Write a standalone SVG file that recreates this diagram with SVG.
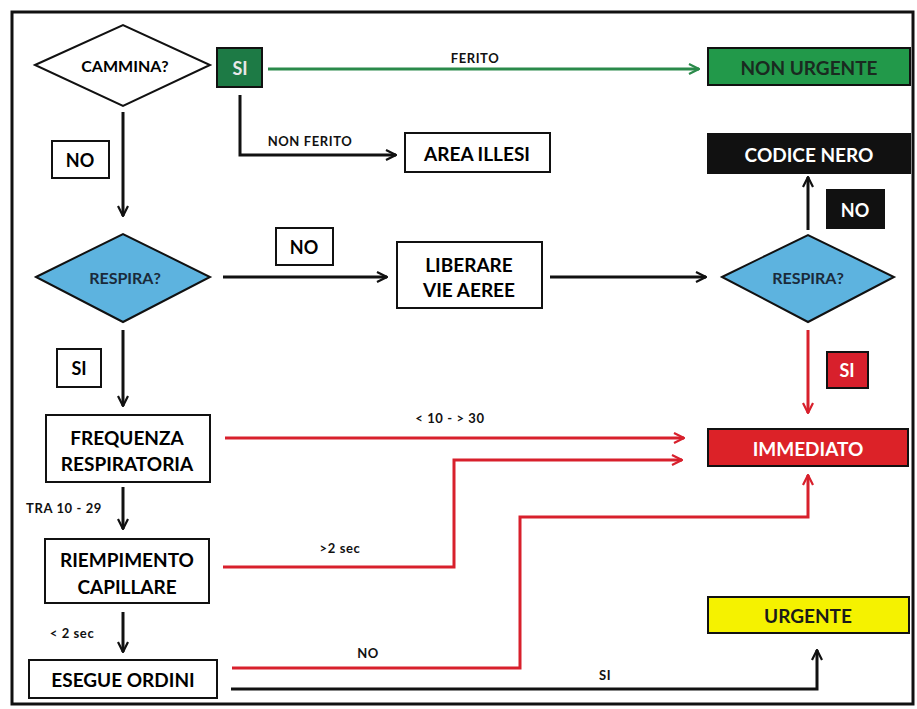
<svg xmlns="http://www.w3.org/2000/svg" width="917" height="709" viewBox="0 0 917 709">
<style>
.t{font-family:Lato,"Liberation Sans",sans-serif;font-weight:bold;font-size:19px;text-anchor:middle;dominant-baseline:central}
.d{font-size:16px}
.n{font-size:18px}
.s{font-family:Lato,"Liberation Sans",sans-serif;font-weight:bold;font-size:13px;letter-spacing:0.6px;text-anchor:middle;dominant-baseline:central;fill:#111}
.box{stroke:#111;stroke-width:2}
.c{fill:none;stroke-width:3}
.k{stroke:#111}
.r{stroke:#d8202c}
.g{stroke:#2a8a4a}
</style>
<defs>
<marker id="ak" viewBox="0 0 12 12" refX="11" refY="6" markerWidth="12" markerHeight="12" markerUnits="userSpaceOnUse" orient="auto"><path d="M1,1 L11,6 L1,11" fill="none" stroke="#111" stroke-width="2.2"/></marker>
<marker id="ar" viewBox="0 0 12 12" refX="11" refY="6" markerWidth="12" markerHeight="12" markerUnits="userSpaceOnUse" orient="auto"><path d="M1,1 L11,6 L1,11" fill="none" stroke="#d8202c" stroke-width="2.2"/></marker>
<marker id="ag" viewBox="0 0 12 12" refX="11" refY="6" markerWidth="12" markerHeight="12" markerUnits="userSpaceOnUse" orient="auto"><path d="M1,1 L11,6 L1,11" fill="none" stroke="#2a8a4a" stroke-width="2.2"/></marker>
</defs>
<rect x="0" y="0" width="917" height="709" fill="#fff"/>
<rect x="12" y="12" width="901" height="692" fill="none" stroke="#111" stroke-width="3"/>

<g id="connectors">
<path class="c g" d="M268,69 H699" marker-end="url(#ag)"/>
<path class="c k" d="M240,95 V155 H396" marker-end="url(#ak)"/>
<path class="c k" d="M123,112 V216" marker-end="url(#ak)"/>
<path class="c k" d="M223,277 H387" marker-end="url(#ak)"/>
<path class="c k" d="M550,277 H706" marker-end="url(#ak)"/>
<path class="c k" d="M808,230 V177" marker-end="url(#ak)"/>
<path class="c r" d="M808,330 V413" marker-end="url(#ar)"/>
<path class="c k" d="M123,330 V406" marker-end="url(#ak)"/>
<path class="c r" d="M225,438 H684" marker-end="url(#ar)"/>
<path class="c r" d="M223,567 H454 V460 H682" marker-end="url(#ar)"/>
<path class="c k" d="M123,487 V529" marker-end="url(#ak)"/>
<path class="c k" d="M123,612 V652" marker-end="url(#ak)"/>
<path class="c r" d="M232,668 H520 V517 H808 V475" marker-end="url(#ar)"/>
<path class="c k" d="M231,689 H817 V650" marker-end="url(#ak)"/>
<text class="s" x="475" y="58">FERITO</text>
<text class="s" x="310" y="141">NON FERITO</text>
<text class="s" x="450" y="418">&lt; 10 - &gt; 30</text>
<text class="s" x="64" y="508">TRA 10 - 29</text>
<text class="s" x="340" y="548">&gt;2 sec</text>
<text class="s" x="72" y="633">&lt; 2 sec</text>
<text class="s" x="368" y="653">NO</text>
<text class="s" x="605" y="675">SI</text>
</g>

<g id="cammina">
<polygon points="35,65 123,25 210,65 123,106" fill="#fff" class="box"/>
<text class="t d" x="125" y="65">CAMMINA?</text>
</g>
<g id="si-green">
<rect x="217" y="48" width="45" height="39" fill="#1d7a45" class="box"/>
<text class="t n" x="240" y="68" fill="#e8e8e8">SI</text>
</g>
<g id="non-urgente">
<rect x="708" y="48" width="202" height="37" fill="#22994a" class="box"/>
<text class="t" x="809" y="67" fill="#1a2a20">NON URGENTE</text>
</g>
<g id="area-illesi">
<rect x="405" y="133" width="145" height="39" fill="#fff" class="box"/>
<text class="t" x="477" y="153">AREA ILLESI</text>
</g>
<g id="codice-nero">
<rect x="708" y="134" width="202" height="39" fill="#111" class="box"/>
<text class="t" x="809" y="154" fill="#fff">CODICE NERO</text>
</g>
<g id="no-nero">
<rect x="827" y="190" width="57" height="38" fill="#111" class="box"/>
<text class="t n" x="855" y="210" fill="#fff">NO</text>
</g>
<g id="no-1">
<rect x="52" y="141" width="57" height="37" fill="#fff" class="box"/>
<text class="t n" x="80" y="160">NO</text>
</g>
<g id="respira-1">
<polygon points="36,277 123,234 210,277 123,322" fill="#5db3df" class="box"/>
<text class="t d" x="125" y="277" fill="#1a2a3a">RESPIRA?</text>
</g>
<g id="no-2">
<rect x="276" y="228" width="57" height="37" fill="#fff" class="box"/>
<text class="t n" x="304" y="247">NO</text>
</g>
<g id="liberare">
<rect x="397" y="242" width="145" height="66" fill="#fff" class="box"/>
<text class="t" x="469" y="264">LIBERARE</text>
<text class="t" x="469" y="289">VIE AEREE</text>
</g>
<g id="respira-2">
<polygon points="722,277 808,235 894,277 808,322" fill="#5db3df" class="box"/>
<text class="t d" x="808" y="277" fill="#1a2a3a">RESPIRA?</text>
</g>
<g id="si-rosso">
<rect x="827" y="352" width="41" height="36" fill="#d8202c" class="box"/>
<text class="t n" x="847" y="370" fill="#fff">SI</text>
</g>
<g id="si-1">
<rect x="57" y="349" width="44" height="38" fill="#fff" class="box"/>
<text class="t n" x="79" y="368">SI</text>
</g>
<g id="immediato">
<rect x="708" y="429" width="200" height="37" fill="#dc2228" class="box"/>
<text class="t" x="808" y="448" fill="#fff">IMMEDIATO</text>
</g>
<g id="frequenza">
<rect x="46" y="415" width="164" height="67" fill="#fff" class="box"/>
<text class="t" x="127" y="437">FREQUENZA</text>
<text class="t" x="127" y="463">RESPIRATORIA</text>
</g>
<g id="riempimento">
<rect x="45" y="539" width="164" height="64" fill="#fff" class="box"/>
<text class="t" x="127" y="559">RIEMPIMENTO</text>
<text class="t" x="127" y="586">CAPILLARE</text>
</g>
<g id="esegue">
<rect x="29" y="660" width="188" height="38" fill="#fff" class="box"/>
<text class="t" x="123" y="679">ESEGUE ORDINI</text>
</g>
<g id="urgente">
<rect x="708" y="597" width="201" height="36" fill="#f5f200" class="box"/>
<text class="t" x="808" y="615" fill="#1a1a1a">URGENTE</text>
</g>
</svg>
